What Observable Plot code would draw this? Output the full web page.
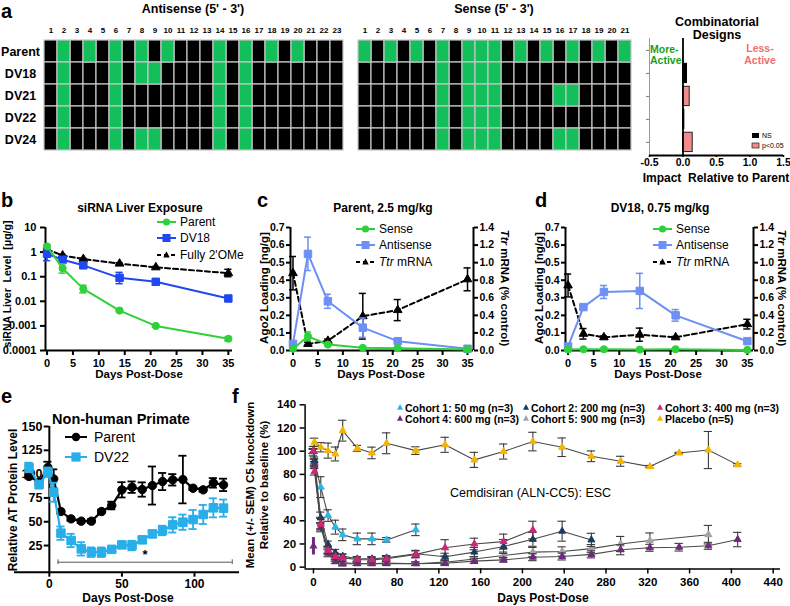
<!DOCTYPE html>
<html>
<head>
<meta charset="utf-8">
<script src="https://cdn.jsdelivr.net/npm/d3@7"></script>
<script src="https://cdn.jsdelivr.net/npm/@observablehq/plot@0.6"></script>
<style>
html,body{margin:0;padding:0;background:#fff;}
#fig{position:relative;width:790px;height:606px;overflow:hidden;background:#fff;}
#fig svg{position:absolute;}
</style>
</head>
<body>
<div id="fig"></div>
<script>
// ================= DATA =================
// Panel a: heatmaps (green = modified position)
const rowNames = ["Parent","DV18","DV21","DV22","DV24"];
const antisensePositions = [1,2,3,4,5,6,7,8,9,10,11,12,13,14,15,16,17,18,19,20,21,22,23];
const sensePositions = [1,2,3,4,5,6,7,8,9,10,11,12,13,14,15,16,17,18,19,20,21];
const antisenseParent = [2,4,6,8,10,14,16,18,20];
const antisenseDV18 = [2,6,8,9,14,16];
const antisenseDV21 = [2,6,14,16];
const antisenseDV22 = [2,6,14,16];
const antisenseDV24 = [2,6,8,9,14,16];
const senseParent = [1,3,5,7,9,10,11,13,15,17,19,21];
const senseDV18 = [7,9,10,11];
const senseDV21 = [7,9,10,11,16,17];
const senseDV22 = [7,9,10,11];
const senseDV24 = [7,9,10,11,16,17];
// Combinatorial designs
const comboDesigns = ["DV18","DV21","DV22","DV24"];
const comboImpact = [0.06,0.10,0.02,0.145];
const comboSignif = ["NS","p<0.05","NS","p<0.05"];
const comboTicks = [-0.5,0,0.5,1,1.5];

// Panel b: siRNA liver exposure (log)
const bDays = [0,3,7,14,21,35];
const bParent = [1.7,0.22,0.032,0.0042,0.001,0.0003];
const bParentLo = [1.5,0.14,0.022,0.0038,0.0009,0.00025];
const bParentHi = [1.9,0.33,0.045,0.0046,0.0011,0.00035];
const bDV18 = [0.85,0.49,0.29,0.09,0.062,0.013];
const bDV18Lo = [0.45,0.42,0.22,0.052,0.047,0.011];
const bDV18Hi = [1.5,0.57,0.37,0.15,0.08,0.015];
const bOMe = [1.3,0.73,0.52,0.34,0.24,0.14];
const bOMeLo = [1.2,0.68,0.48,0.31,0.22,0.1];
const bOMeHi = [1.4,0.8,0.56,0.37,0.26,0.2];
const bXTicks = [0,5,10,15,20,25,30,35];
const bYTicks = [10,1,0.1,0.01,0.001,0.0001];

// Panel c: Parent 2.5 mg/kg
const cdDays = [0,3,7,14,21,35];
const cSense = [0.01,0.08,0.034,0.015,0.013,0.006];
const cSenseErr = [0.003,0.025,0.005,0.002,0.002,0.001];
const cAnti = [0.038,0.55,0.28,0.13,0.053,0.01];
const cAntiErr = [0.008,0.095,0.04,0.055,0.005,0.002];
const cTtr = [0.88,0.075,0.11,0.39,0.46,0.81];
const cTtrErr = [0.19,0.02,0.02,0.26,0.12,0.13];
// Panel d: DV18 0.75 mg/kg
const dSense = [0.005,0.007,0.007,0.005,0.007,0.003];
const dSenseErr = [0.001,0.001,0.001,0.001,0.001,0.001];
const dAnti = [0.023,0.247,0.333,0.339,0.2,0.053];
const dAntiErr = [0.005,0.01,0.037,0.1,0.033,0.006];
const dTtr = [0.74,0.19,0.15,0.18,0.15,0.3];
const dTtrErr = [0.13,0.06,0.015,0.075,0.01,0.055];
const cdXTicks = [0,5,10,15,20,25,30,35];
const cdYTicks = [0,0.1,0.2,0.3,0.4,0.5,0.6,0.7];

// Panel e: Non-human primate
const eDays = [-14,-7,-1,3,8,15,22,29,36,43,50,57,64,71,78,85,92,99,106,113,120];
const eParent = [97.5,91.6,107,95,60.7,53,50.6,50.6,60.7,67,83.5,86.3,83.8,88,92.2,94,94.3,85.2,83.5,90.8,88.7];
const eParentErr = [2,3,6,10,2,2,2,2,2,4,8,6,7.5,20,9,6,25,2,2,5,6.5];
const eDV22 = [107,89,102,81,38,30.3,21.5,18,18,21,25.7,25,31,37.2,40.8,46.7,49.5,52.3,57.6,64.6,64.3];
const eDV22Err = [5,4,5,10,7,7,7,5,5,3,2,5,3,3,5,8,8,10,10,10,9];
const eXTicks = [0,50,100];
const eYTicks = [25,50,75,100,125,150];
const eSigStart = 6, eSigEnd = 126, eSigLevel = 7.5, eSigLabel = "*";

// Panel f: Cemdisiran
const fPlaceboDays = [0,1,7,14,21,28,42,56,70,98,126,154,182,210,238,266,294,322,350,378,406];
const fPlacebo = [100,107.7,103.4,100.5,97.6,117.7,102.5,98.5,106.8,100.5,105.5,92.5,99.7,108.3,103.4,95.6,91.3,86.7,98.5,101,88.2];
const fPlaceboErr = [4,3.5,4,6.5,6,9,2.5,5,9,3.3,6.5,6.5,6.5,8,8,4.6,4.3,1,0.5,16,1];
const fC1Days = [0,1,7,14,21,28,42,56,70,98];
const fC1 = [100,90.5,69,44.5,34.5,27.9,24.4,24.4,23.5,32.2];
const fC1Err = [2,3,9,5,6,5,5,5,2,5];
const fC2Days = [0,1,7,14,21,28,42,56,70,98,126,154,182,210,238,266];
const fC2 = [100,92,42.5,19.5,12.3,9.5,7.2,7.2,8,11.5,9,13,17.8,24,31,23.5];
const fC2Err = [2,3,5,3,3,2,2,2,2,3,3,4,6,6,8.6,5.7];
const fC3Days = [0,1,7,14,21,28,42,56,70,98,126,154,182,210];
const fC3 = [100,82.4,37,14.4,9.2,8,6.6,6.3,7.2,11,16.7,20,22,32];
const fC3Err = [2,3,5,3,3,3,2,2,2,3,7,5,6.5,7.6];
const fC4Days = [0,1,7,14,21,28,42,56,70,98,126,154,182,210,238,266,294,322,350,378,406];
const fC4 = [100,88,34.5,12,5,3,3,3,3,3,3.4,5.2,6.3,8.6,9.2,11,15,16.7,17.2,18.4,23.8];
const fC4Err = [2,3,4,3,2,2,1.5,1.5,1.5,1.5,2,2,2,3,3,3,4.3,3,3.3,3,6.2];
const fC4Day0Cluster = [{day:0, value:18, err:7.5}];
const fC5Days = [0,1,7,14,21,28,42,56,70,98,126,154,182,210,238,266,294,322,378];
const fC5 = [100,90,38,15,7,4,3,3,3.5,3,4.3,7,10,13,13.5,16,20,23,28];
const fC5Err = [2,3,5,3,2,2,1.5,1.5,1.5,1.5,2,2,3,4,4,3.5,6.5,6.5,8];
const fXTicks = [0,40,80,120,160,200,240,280,320,360,400,440];
const fYTicks = [0,20,40,60,80,100,120,140];
const fLegend = ["Cohort 1: 50 mg (n=3)","Cohort 2: 200 mg (n=3)","Cohort 3: 400 mg (n=3)","Cohort 4: 600 mg (n=3)","Cohort 5: 900 mg (n=3)","Placebo (n=5)"];

// ================= HELPERS =================
const FONT = '"Liberation Sans", Arial, Helvetica, sans-serif';
const HM_GREEN = "#12bf5a";
const GREEN = "#2fd13a", BLUE = "#1f47f2", LBLUE = "#6e8ff3", SKY = "#28aee8";
const fColors = ["#2bb5ec","#183a63","#d1257a","#6f2a7e","#a3a3a3","#f5b400"];
const fig = document.getElementById("fig");
function add(svg, left, top) { svg.style.position = "absolute"; svg.style.left = left + "px"; svg.style.top = top + "px"; fig.appendChild(svg); }
function st(size) { return {fontFamily: FONT, fontSize: size + "px", fontWeight: "bold", background: "transparent", color: "#000", overflow: "visible"}; }
function mk(xs, ys, lo, hi) { return xs.map((x, i) => ({x, y: ys[i], lo: lo[i], hi: hi[i]})); }
function mkErr(xs, ys, err, k = 1) { return xs.map((x, i) => ({x, y: ys[i] * k, lo: (ys[i] - err[i]) * k, hi: (ys[i] + err[i]) * k})); }
function series(pts, o) {
  const cap = o.cap ?? 0.6, ec = o.ecolor ?? o.color, esw = o.esw ?? 1.5;
  return [
    Plot.line(pts, {x: "x", y: "y", stroke: o.line ?? o.color, strokeWidth: o.sw ?? 2, strokeDasharray: o.dash}),
    Plot.ruleX(pts, {x: "x", y1: "lo", y2: "hi", stroke: ec, strokeWidth: esw}),
    Plot.ruleY(pts, {y: "hi", x1: d => d.x - cap, x2: d => d.x + cap, stroke: ec, strokeWidth: esw}),
    Plot.ruleY(pts, {y: "lo", x1: d => d.x - cap, x2: d => d.x + cap, stroke: ec, strokeWidth: esw}),
    Plot.dot(pts, {x: "x", y: "y", symbol: o.symbol, r: o.r, fill: o.color, stroke: o.color, strokeWidth: 1})
  ];
}
function buildCells(positions, greens) {
  const out = [];
  rowNames.forEach((row, i) => positions.forEach(p => out.push({row, pos: p, green: greens[i].includes(p)})));
  return out;
}

// ================= PANEL a: heatmaps =================
function heatmap(positions, cells, width, ml, mr, labels) {
  return Plot.plot({
    width, height: 136, marginTop: 18, marginBottom: 4, marginLeft: ml, marginRight: mr,
    style: st(8),
    x: {type: "band", domain: positions, padding: 0},
    y: {type: "band", domain: rowNames, padding: 0, axis: null},
    marks: [
      Plot.cell(cells.filter(d => !d.green), {x: "pos", y: "row", fill: "#000", stroke: "#c6c6c6", strokeWidth: 1.2}),
      Plot.cell(cells.filter(d => d.green), {x: "pos", y: "row", fill: HM_GREEN, stroke: "#c6c6c6", strokeWidth: 1.2}),
      Plot.axisX({anchor: "top", tickSize: 0, tickPadding: 6, label: null, fontSize: 8, fontWeight: "bold"}),
      labels ? Plot.text(rowNames, {y: d => d, frameAnchor: "left", dx: -24, textAnchor: "middle", fontSize: 12.5, fontWeight: "bold"}) : null
    ]
  });
}
add(heatmap(antisensePositions, buildCells(antisensePositions, [antisenseParent, antisenseDV18, antisenseDV21, antisenseDV22, antisenseDV24]), 345, 44, 2, true), 0, 20);
add(heatmap(sensePositions, buildCells(sensePositions, [senseParent, senseDV18, senseDV21, senseDV22, senseDV24]), 278, 2, 2, false), 355, 20);

// Combinatorial designs
const combo = comboDesigns.map((name, i) => ({name, i: rowNames.indexOf(name), impact: comboImpact[i], sig: comboSignif[i]}));
add(Plot.plot({
  width: 160, height: 145, marginLeft: 19, marginRight: 7, marginTop: 8, marginBottom: 20,
  style: st(10.5),
  x: {domain: [-0.5, 1.5]},
  y: {domain: [-0.52, 4.57], reverse: true},
  marks: [
    Plot.ruleX([-0.5], {stroke: "#9a9a9a", strokeWidth: 1}),
    Plot.axisY({ticks: [0,1,2,3,4], tickFormat: () => "", tickSize: 3, stroke: "#777", label: null}),
    Plot.rect(combo.filter(d => d.sig === "NS"), {x1: () => 0, x2: "impact", y1: d => d.i - 0.42, y2: d => d.i + 0.42, fill: "#000", stroke: "#000"}),
    Plot.rect(combo.filter(d => d.sig !== "NS"), {x1: () => 0, x2: "impact", y1: d => d.i - 0.42, y2: d => d.i + 0.42, fill: "#f28b8b", stroke: "#222", strokeWidth: 1}),
    Plot.ruleX([0], {strokeWidth: 1.8}),
    Plot.ruleY([4.57], {strokeWidth: 1.8}),
    Plot.axisX({ticks: comboTicks, tickFormat: d => d.toFixed(1), tickSize: 2, tickPadding: 1, strokeWidth: 1.5, label: null})
  ]
}), 630, 30);

// ================= PANEL b =================
add(Plot.plot({
  width: 245, height: 165, marginLeft: 45, marginRight: 13, marginTop: 12, marginBottom: 30,
  style: st(11),
  x: {domain: [-0.3, 35.8]},
  y: {type: "log", domain: [0.0001, 10]},
  marks: [
    Plot.axisY({ticks: bYTicks, tickFormat: d => String(d), tickSize: 5, strokeWidth: 2, label: null}),
    Plot.axisX({ticks: bXTicks, tickSize: 5, strokeWidth: 2, label: null}),
    Plot.ruleX([-0.3], {strokeWidth: 2}),
    Plot.ruleY([0.0001], {strokeWidth: 2}),
    ...series(mk(bDays, bOMe, bOMeLo, bOMeHi), {color: "#000", symbol: "triangle", r: 3.2, dash: "5,3", cap: 0.7}),
    ...series(mk(bDays, bDV18, bDV18Lo, bDV18Hi), {color: BLUE, symbol: "square", r: 4.2, cap: 0.7}),
    ...series(mk(bDays, bParent, bParentLo, bParentHi), {color: GREEN, symbol: "circle", r: 3.6, cap: 0.7})
  ]
}), 0, 215);

// ================= PANELS c, d =================
function knockPanel(sense, senseErr, anti, antiErr, ttr, ttrErr, width, ml, mr) {
  return Plot.plot({
    width, height: 165, marginLeft: ml, marginRight: mr, marginTop: 12, marginBottom: 30,
    style: st(11),
    x: {domain: [-0.5, 36.2]},
    y: {domain: [0, 0.7]},
    marks: [
      Plot.axisY({anchor: "left", ticks: cdYTicks, tickFormat: d => d.toFixed(1), tickSize: 4, tickPadding: 2, strokeWidth: 2, label: null, fontSize: 10.5}),
      Plot.axisY({anchor: "right", ticks: cdYTicks, tickFormat: d => (2 * d).toFixed(1), tickSize: 4, tickPadding: 2, strokeWidth: 2, label: null, fontSize: 10.5}),
      Plot.axisX({ticks: cdXTicks, tickSize: 5, strokeWidth: 2, label: null}),
      Plot.ruleX([-0.5], {strokeWidth: 2}),
      Plot.ruleX([36.2], {strokeWidth: 2}),
      Plot.ruleY([0], {strokeWidth: 2}),
      ...series(mkErr(cdDays, ttr, ttrErr, 0.5), {color: "#000", symbol: "triangle", r: 3.2, dash: "5,3", cap: 0.7}),
      ...series(mkErr(cdDays, anti, antiErr), {color: LBLUE, symbol: "square", r: 4.2, cap: 0.7}),
      ...series(mkErr(cdDays, sense, senseErr), {color: GREEN, symbol: "circle", r: 3.6, cap: 0.7})
    ]
  });
}
add(knockPanel(cSense, cSenseErr, cAnti, cAntiErr, cTtr, cTtrErr, 250, 28, 39), 262, 215);
add(knockPanel(dSense, dSenseErr, dAnti, dAntiErr, dTtr, dTtrErr, 253, 28, 37), 537, 215);

// ================= PANEL e =================
add(Plot.plot({
  width: 250, height: 185, marginLeft: 14, marginRight: 11, marginTop: 11, marginBottom: 28.3,
  style: st(12),
  x: {domain: [-24, 131]},
  y: {domain: [-3, 150], axis: null},
  marks: [
    Plot.ruleY([-3], {strokeWidth: 2}),
    Plot.axisX({ticks: eXTicks, tickSize: 5, tickPadding: 2, strokeWidth: 2, label: null}),
    Plot.ruleX([0], {y1: () => -3, y2: () => 150, strokeWidth: 2}),
    Plot.ruleY(eYTicks, {y: d => d, x1: () => -3.5, x2: () => 0, strokeWidth: 2}),
    Plot.text(eYTicks, {x: () => 0, y: d => d, text: d => String(d), textAnchor: "end", dx: -7, fontSize: 12.5, fontWeight: "bold"}),
    Plot.ruleY([eSigLevel], {x1: () => eSigStart, x2: () => eSigEnd, stroke: "#555", strokeWidth: 1}),
    Plot.ruleX([eSigStart, eSigEnd], {x: d => d, y1: () => eSigLevel - 2.5, y2: () => eSigLevel + 2.5, stroke: "#555", strokeWidth: 1}),
    Plot.text([eSigLabel], {x: () => (eSigStart + eSigEnd) / 2, y: () => eSigLevel, text: d => d, dy: -7, fontSize: 13, fontWeight: "bold"}),
    ...series(mkErr(eDays, eParent, eParentErr), {color: "#000", symbol: "circle", r: 4.2, cap: 2.8, sw: 2.2, esw: 1.8}),
    ...series(mkErr(eDays, eDV22, eDV22Err), {color: SKY, symbol: "square", r: 4.8, cap: 2.8, sw: 2.2, esw: 1.8})
  ]
}), 0, 415);

// ================= PANEL f =================
const fErr = {line: "#4a4a4a", sw: 1.1, ecolor: "#3a3a3a", esw: 1.1, cap: 4, symbol: "triangle", r: 2.6};
add(Plot.plot({
  width: 520, height: 195, marginLeft: 34.6, marginRight: 10, marginTop: 9.3, marginBottom: 21.6,
  style: st(11.5),
  x: {domain: [-8, 447]},
  y: {domain: [-1.5, 140]},
  marks: [
    Plot.ruleX([-8], {strokeWidth: 1.5}),
    Plot.ruleY([-1.5], {strokeWidth: 1.5}),
    Plot.axisY({ticks: fYTicks, tickSize: 5, strokeWidth: 1.5, label: null}),
    Plot.axisX({ticks: fXTicks, tickSize: 5, strokeWidth: 1.5, label: null}),
    Plot.ruleX(fC4Day0Cluster, {x: "day", y1: d => d.value - d.err, y2: d => d.value + d.err, stroke: fColors[3], strokeWidth: 3}),
    Plot.dot(fC4Day0Cluster, {x: "day", y: "value", symbol: "triangle", r: 3, fill: fColors[3]}),
    ...series(mkErr(fPlaceboDays, fPlacebo, fPlaceboErr), {...fErr, color: fColors[5]}),
    ...series(mkErr(fC1Days, fC1, fC1Err), {...fErr, color: fColors[0]}),
    ...series(mkErr(fC5Days, fC5, fC5Err), {...fErr, color: fColors[4]}),
    ...series(mkErr(fC4Days, fC4, fC4Err), {...fErr, color: fColors[3]}),
    ...series(mkErr(fC2Days, fC2, fC2Err), {...fErr, color: fColors[1]}),
    ...series(mkErr(fC3Days, fC3, fC3Err), {...fErr, color: fColors[2]})
  ]
}), 270, 395);

// ================= OVERLAY TEXT / LEGENDS =================
const ov = d3.create("svg").attr("width", 790).attr("height", 606).attr("font-family", FONT)
  .style("position", "absolute").style("left", "0px").style("top", "0px");
function T(x, y, s, o = {}) {
  const t = ov.append("text").attr("font-size", o.size || 12).attr("font-weight", o.w || "bold")
    .attr("fill", o.c || "#000").attr("text-anchor", o.a || "start").style("white-space", "pre");
  if (o.rot) t.attr("transform", `translate(${x},${y}) rotate(${o.rot})`).attr("dominant-baseline", "central");
  else t.attr("x", x).attr("y", y);
  if (Array.isArray(s)) s.forEach(p => t.append("tspan").attr("font-style", p.i ? "italic" : "normal").text(p.t));
  else t.text(s);
  return t;
}
function sym(x, y, shape, color, r) {
  if (shape === "circle") ov.append("circle").attr("cx", x).attr("cy", y).attr("r", r).attr("fill", color);
  else if (shape === "square") ov.append("rect").attr("x", x - r).attr("y", y - r).attr("width", 2 * r).attr("height", 2 * r).attr("fill", color);
  else ov.append("path").attr("d", `M${x},${y - r * 1.15}L${x + r},${y + r * 0.75}L${x - r},${y + r * 0.75}Z`).attr("fill", color);
}
function leg(x1, x2, y, color, shape, r, dash, label, tx, size) {
  ov.append("line").attr("x1", x1).attr("x2", x2).attr("y1", y).attr("y2", y).attr("stroke", color).attr("stroke-width", 2).attr("stroke-dasharray", dash || null);
  sym((x1 + x2) / 2, y, shape, color, r);
  T(tx, y + size * 0.36, label, {w: "normal", size});
}
// panel letters
T(1, 18, "a", {size: 20}); T(1, 207, "b", {size: 20}); T(257, 207, "c", {size: 20});
T(535, 207, "d", {size: 20}); T(1, 403, "e", {size: 20}); T(232, 403, "f", {size: 20});
// a titles
T(193, 13, "Antisense (5' - 3')", {size: 12.5, a: "middle"});
T(494, 13, "Sense (5' - 3')", {size: 12.5, a: "middle"});
T(717, 26, "Combinatorial", {size: 12.5, a: "middle"});
T(717, 39, "Designs", {size: 12.5, a: "middle"});
T(650, 53, "More-", {size: 10.5, c: "#1a9e1a"}); T(650, 64, "Active", {size: 10.5, c: "#1a9e1a"});
T(760, 52, "Less-", {size: 10.5, c: "#f26d6d", a: "middle"}); T(760, 64, "Active", {size: 10.5, c: "#f26d6d", a: "middle"});
ov.append("rect").attr("x", 752).attr("y", 133).attr("width", 7).attr("height", 5).attr("fill", "#000");
T(762, 138, "NS", {size: 7, w: "normal"});
ov.append("rect").attr("x", 752).attr("y", 143).attr("width", 7).attr("height", 5).attr("fill", "#f28b8b").attr("stroke", "#222").attr("stroke-width", 0.7);
T(762, 148, "p<0.05", {size: 7, w: "normal"});
T(716, 182, "Impact  Relative to Parent", {size: 12, a: "middle"});
// b
T(140, 212, "siRNA Liver Exposure", {size: 12, a: "middle"});
T(7, 284, "siRNA Liver  Level  [\u03bcg/g]", {size: 10.5, a: "middle", rot: -90});
T(139, 378, "Days Post-Dose", {size: 11.5, a: "middle"});
leg(157, 176, 222, GREEN, "circle", 3.6, null, "Parent", 180, 12);
leg(157, 176, 238, BLUE, "square", 4, null, "DV18", 180, 12);
leg(157, 176, 255, "#000", "triangle", 3.2, "4,3", "Fully 2'OMe", 180, 12);
// c
T(383, 212, "Parent, 2.5 mg/kg", {size: 12, a: "middle"});
T(264, 288, "Ago2 Loading [ng/g]", {size: 11.5, a: "middle", rot: -90});
T(505, 288, [{t: "Ttr", i: 1}, {t: " mRNA (% control)"}], {size: 11.5, a: "middle", rot: 90});
T(381, 378, "Days Post-Dose", {size: 11.5, a: "middle"});
leg(356, 375, 229, GREEN, "circle", 3.6, null, "Sense", 379, 12);
leg(356, 375, 245, LBLUE, "square", 4, null, "Antisense", 379, 12);
leg(356, 375, 262, "#000", "triangle", 3.2, "4,3", [{t: "Ttr", i: 1}, {t: " mRNA"}], 379, 12);
// d
T(660, 212, "DV18, 0.75 mg/kg", {size: 12, a: "middle"});
T(539, 288, "Ago2 Loading [ng/g]", {size: 11.5, a: "middle", rot: -90});
T(782, 288, [{t: "Ttr", i: 1}, {t: " mRNA (% control)"}], {size: 11.5, a: "middle", rot: 90});
T(658, 378, "Days Post-Dose", {size: 11.5, a: "middle"});
leg(653, 672, 229, GREEN, "circle", 3.6, null, "Sense", 676, 12);
leg(653, 672, 245, LBLUE, "square", 4, null, "Antisense", 676, 12);
leg(653, 672, 262, "#000", "triangle", 3.2, "4,3", [{t: "Ttr", i: 1}, {t: " mRNA"}], 676, 12);
// e
T(121, 424, "Non-human Primate", {size: 14.5, a: "middle"});
T(13, 500, "Relative AT Protein Level", {size: 12, a: "middle", rot: -90});
T(128, 602, "Days Post-Dose", {size: 12, a: "middle"});
leg(65, 87, 437, "#000", "circle", 4.2, null, "Parent", 94, 14);
leg(65, 87, 457, SKY, "square", 4.6, null, "DV22", 94, 14);
// f
T(250, 485, "Mean (+/- SEM) C5 knockdown", {size: 11.5, a: "middle", rot: -90});
T(264, 485, "Relative to baseline (%)", {size: 11.5, a: "middle", rot: -90});
T(543, 602, "Days Post-Dose", {size: 12, a: "middle"});
T(450, 497, "Cemdisiran (ALN-CC5): ESC", {size: 12.5, w: "normal"});
const fLegX = [397, 523, 657], fLegY = [408, 419];
fLegend.forEach((lab, k) => {
  const col = k % 3, row = k < 3 ? 0 : 1;
  sym(fLegX[col] + 3, fLegY[row] - 0.5, "triangle", fColors[k], 3);
  T(fLegX[col] + 8, fLegY[row] + 4, lab, {size: 10.5});
});
fig.appendChild(ov.node());
</script>
</body>
</html>
